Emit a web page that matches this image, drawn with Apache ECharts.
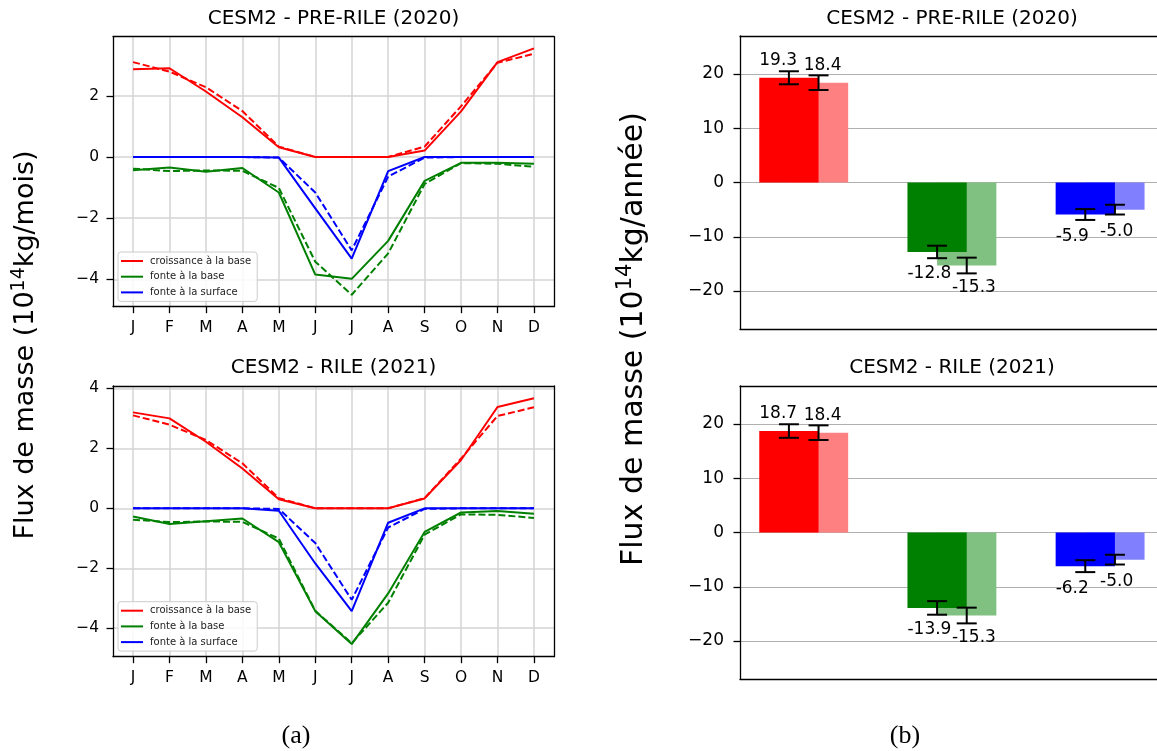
<!DOCTYPE html>
<html>
<head>
<meta charset="utf-8">
<script src="https://cdn.jsdelivr.net/npm/echarts@6/dist/echarts.min.js"></script>
<style>html,body{margin:0;padding:0;background:#fff;}#c{width:1157px;height:751px;}</style>
</head>
<body>
<div id="c"></div>
<script>
// ---------- data ----------
const months = ['J','F','M','A','M','J','J','A','S','O','N','D'];
const seriesNames = ['croissance à la base', 'fonte à la base', 'fonte à la surface'];

// monthly fluxes, CESM2 PRE-RILE (2020), solid lines
const growth2020 = [2.87, 2.90, 2.14, 1.30, 0.32, 0, 0, 0, 0.21, 1.49, 3.10, 3.55];
const basal2020  = [-0.43, -0.34, -0.48, -0.36, -1.16, -3.84, -3.98, -2.74, -0.78, -0.19, -0.19, -0.22];
const surf2020   = [0, 0, 0, 0, -0.02, -1.68, -3.32, -0.46, 0, 0, 0, 0];
// monthly fluxes, CESM2 RILE (2021), solid lines
const growth2021 = [3.20, 3.00, 2.22, 1.33, 0.30, 0, 0, 0, 0.33, 1.61, 3.38, 3.67];
const basal2021  = [-0.27, -0.52, -0.43, -0.34, -1.13, -3.43, -4.53, -2.84, -0.79, -0.14, -0.09, -0.18];
const surf2021   = [0, 0, 0, 0, -0.08, -1.84, -3.43, -0.48, 0, 0, 0, 0];
// reference (dashed lines, same in both panels)
const growthRef  = [3.10, 2.79, 2.28, 1.50, 0.34, 0, 0, 0, 0.34, 1.66, 3.08, 3.37];
const basalRef   = [-0.38, -0.46, -0.44, -0.45, -1.01, -3.42, -4.50, -3.15, -0.88, -0.20, -0.22, -0.32];
const surfRef    = [0, 0, 0, 0, -0.02, -1.16, -3.05, -0.64, -0.02, 0, 0, 0];

// annual totals (bars)
const annual2020    = [19.3, -12.8, -5.9];
const annualErr2020 = [1.2, 1.15, 1.0];
const annual2021    = [18.7, -13.9, -6.2];
const annualErr2021 = [1.25, 1.25, 1.1];
const annualRef     = [18.4, -15.3, -5.0];
const annualRefErr  = [1.35, 1.45, 0.9];

// tick values
const monthTicks = months.map((m, i) => i);
const lineTicksTop = [-4, -2, 0, 2];
const lineTicksBottom = [-4, -2, 0, 2, 4];
const barTicks = [-20, -10, 0, 10, 20];

// ---------- styles ----------
const FONT = 'DejaVu Sans';
const colors = ['#ff0000', '#008000', '#0000ff'];
const lightColors = ['#ff8080', '#80c080', '#8080ff'];
const frame = {color: '#000', width: 1.3};

const grids = [
  {left: 113, top: 36.7, width: 441, height: 270},
  {left: 113, top: 386, width: 441, height: 270.7},
  {left: 740, top: 36, right: 0, height: 293},
  {left: 740, top: 386, right: 0, height: 293}
];

function minus(v) { return String(v).replace('-', '\u2212'); }

const xAxes = [], yAxes = [];
function addDecor(g, showRight) {
  xAxes.push({gridIndex: g, type: 'value', position: 'top', min: 0, max: 1,
    axisLine: {show: true, onZero: false, lineStyle: frame}, axisTick: {show: false},
    axisLabel: {show: false}, splitLine: {show: false}});
  yAxes.push({gridIndex: g, type: 'value', position: 'right', min: 0, max: 1,
    axisLine: {show: showRight, onZero: false, lineStyle: frame}, axisTick: {show: false},
    axisLabel: {show: false}, splitLine: {show: false}});
}
function lineAxes(g, ymin, ymax, ticks) {
  xAxes.push({gridIndex: g, type: 'value', position: 'bottom', min: -0.55, max: 11.55, splitNumber: 12,
    axisLine: {show: true, onZero: false, lineStyle: frame},
    axisTick: {show: true, customValues: monthTicks, length: 6.5, lineStyle: frame},
    axisLabel: {customValues: monthTicks, margin: 13, fontSize: 15.5, fontFamily: FONT, color: '#000',
      formatter: v => (Number.isInteger(v) && months[v]) ? months[v] : ''},
    splitLine: {show: true, lineStyle: {color: '#d4d4d4', width: 1.5}}});
  yAxes.push({gridIndex: g, type: 'value', position: 'left', min: ymin, max: ymax,
    axisLine: {show: true, onZero: false, lineStyle: frame},
    axisTick: {show: true, customValues: ticks, length: 6.5, lineStyle: frame},
    axisLabel: {customValues: ticks, margin: 14, fontSize: 15.5, fontFamily: FONT, color: '#000',
      formatter: v => ticks.indexOf(v) >= 0 ? minus(v) : ''},
    splitLine: {show: true, lineStyle: {color: '#d4d4d4', width: 1.5}}});
  addDecor(g, true);
}
function barAxes(g) {
  // the plot frame extends slightly past the right edge of the picture
  xAxes.push({gridIndex: g, type: 'value', position: 'bottom', min: -0.33, max: 2.484,
    axisLine: {show: true, onZero: false, lineStyle: frame}, axisTick: {show: false},
    axisLabel: {show: false}, splitLine: {show: false}});
  yAxes.push({gridIndex: g, type: 'value', position: 'left', min: -27, max: 27,
    axisLine: {show: true, onZero: false, lineStyle: frame},
    axisTick: {show: true, customValues: barTicks, length: 6.5, lineStyle: frame},
    axisLabel: {customValues: barTicks, margin: 16, fontSize: 17, fontFamily: FONT, color: '#000',
      formatter: v => barTicks.indexOf(v) >= 0 ? minus(v) : ''},
    splitLine: {show: true, lineStyle: {color: '#b0b0b0', width: 1.2}}});
  addDecor(g, false);
}
lineAxes(0, -4.89, 3.93, lineTicksTop);
lineAxes(1, -4.95, 4.08, lineTicksBottom);
barAxes(2);
barAxes(3);

const series = [];
function lineSeries(g, name, vals, color, dashed) {
  series.push({
    type: 'line', name: name, xAxisIndex: 2 * g, yAxisIndex: 2 * g,
    data: vals.map((v, i) => [i, v]), symbol: 'none', color: color,
    lineStyle: {color: color, width: 2, type: dashed ? [7, 3] : 'solid'},
    z: dashed ? 3 : 4
  });
}
function linePanel(g, solids) {
  const refs = [growthRef, basalRef, surfRef];
  solids.forEach((vals, k) => lineSeries(g, seriesNames[k], vals, colors[k], false));
  refs.forEach((vals, k) => lineSeries(g, seriesNames[k] + ' (réf.)', vals, colors[k], true));
}
linePanel(0, [growth2020, basal2020, surf2020]);
linePanel(1, [growth2021, basal2021, surf2021]);

const BAR_HALF = 0.2;
function barRender(palette) {
  return function (params, api) {
    const x = api.value(0), v = api.value(1);
    const a = api.coord([x - BAR_HALF, 0]);
    const b = api.coord([x + BAR_HALF, v]);
    return {type: 'rect', shape: {x: a[0], y: Math.min(a[1], b[1]), width: b[0] - a[0], height: Math.abs(b[1] - a[1])},
      style: {fill: palette[params.dataIndex]}};
  };
}
function errRender(params, api) {
  const x = api.value(0), v = api.value(1), e = api.value(2);
  const lo = api.coord([x, v - e]), hi = api.coord([x, v + e]);
  const st = {stroke: '#000', lineWidth: 2};
  return {type: 'group', children: [
    {type: 'line', shape: {x1: lo[0], y1: lo[1], x2: hi[0], y2: hi[1]}, style: st},
    {type: 'line', shape: {x1: lo[0] - 10, y1: lo[1], x2: lo[0] + 10, y2: lo[1]}, style: st},
    {type: 'line', shape: {x1: hi[0] - 10, y1: hi[1], x2: hi[0] + 10, y2: hi[1]}, style: st}
  ]};
}
function labelRender(dx) {
  return function (params, api) {
    const x = api.value(0), v = api.value(1);
    const p = api.coord([x + dx, v]);
    return {type: 'text', x: p[0], y: p[1] + (v >= 0 ? -17 : 22),
      style: {text: v.toFixed(1), fill: '#000', font: '17px "DejaVu Sans"', align: 'left', verticalAlign: 'middle'}};
  };
}
function barPanel(g, vals, errs) {
  const ax = {xAxisIndex: 2 * g, yAxisIndex: 2 * g, encode: {x: 0, y: 1}};
  const refData = annualRef.map((v, i) => [i + 0.2, v, annualRefErr[i]]);
  const data = vals.map((v, i) => [i, v, errs[i]]);
  series.push(Object.assign({type: 'custom', name: 'annuel réf. ' + g, renderItem: barRender(lightColors), data: refData, z: 2}, ax));
  series.push(Object.assign({type: 'custom', name: 'annuel ' + g, renderItem: barRender(colors), data: data, z: 3}, ax));
  series.push(Object.assign({type: 'custom', name: 'err ' + g, renderItem: errRender, data: data, z: 5}, ax));
  series.push(Object.assign({type: 'custom', name: 'err réf. ' + g, renderItem: errRender, data: refData, z: 5}, ax));
  series.push(Object.assign({type: 'custom', name: 'lab ' + g, renderItem: labelRender(-0.2), data: data, z: 6}, ax));
  series.push(Object.assign({type: 'custom', name: 'lab réf. ' + g, renderItem: labelRender(-0.1), data: refData, z: 6}, ax));
}
barPanel(2, annual2020, annualErr2020);
barPanel(3, annual2021, annualErr2021);

function legend(top) {
  return {data: seriesNames, orient: 'vertical', left: 118, top: top, icon: 'rect', itemWidth: 22, itemHeight: 2,
    itemGap: 3.7, padding: [3, 6, 3, 3], backgroundColor: 'rgba(255,255,255,0.85)', borderColor: '#cccccc',
    borderWidth: 1, borderRadius: 3, selectedMode: false,
    textStyle: {fontSize: 10, fontFamily: FONT, color: '#222', lineHeight: 12, padding: [0, 0, 0, 2]}};
}

function title(text, x, y) {
  return {type: 'text', x: x, y: y, style: {text: text, fill: '#000', font: '20px "DejaVu Sans"', align: 'center', verticalAlign: 'middle'}};
}
function yName(unit, x, y, size) {
  const sup = Math.round(size * 0.7);
  return {type: 'text', x: x, y: y, rotation: Math.PI / 2,
    style: {text: '{n|Flux de masse (10}{s|14}{n|kg/' + unit + ')}', align: 'center', verticalAlign: 'middle', fill: '#000',
      rich: {n: {fontSize: size, fontFamily: FONT, lineHeight: size * 1.25, fill: '#000'},
             s: {fontSize: sup, fontFamily: FONT, lineHeight: size * 0.72, verticalAlign: 'top', fill: '#000'}}}};
}

const option = {
  animation: false,
  textStyle: {fontFamily: FONT},
  grid: grids.map(g => Object.assign({show: false, containLabel: false}, g)),
  xAxis: xAxes,
  yAxis: yAxes,
  legend: [legend(252), legend(601.7)],
  series: series,
  graphic: [
    title('CESM2 - PRE-RILE (2020)', 333.5, 18.3),
    title('CESM2 - RILE (2021)', 333.5, 367.5),
    title('CESM2 - PRE-RILE (2020)', 952, 18.3),
    title('CESM2 - RILE (2021)', 952, 367.5),
    yName('mois', 26, 345, 27),
    yName('année', 634, 339, 30),
    {type: 'text', x: 296, y: 736, style: {text: '(a)', fill: '#000', font: '26px "Liberation Serif"', align: 'center', verticalAlign: 'middle'}},
    {type: 'text', x: 905, y: 736, style: {text: '(b)', fill: '#000', font: '26px "Liberation Serif"', align: 'center', verticalAlign: 'middle'}}
  ]
};

const chart = echarts.init(document.getElementById('c'), null, {renderer: 'canvas'});
chart.setOption(option);
</script>
</body>
</html>
